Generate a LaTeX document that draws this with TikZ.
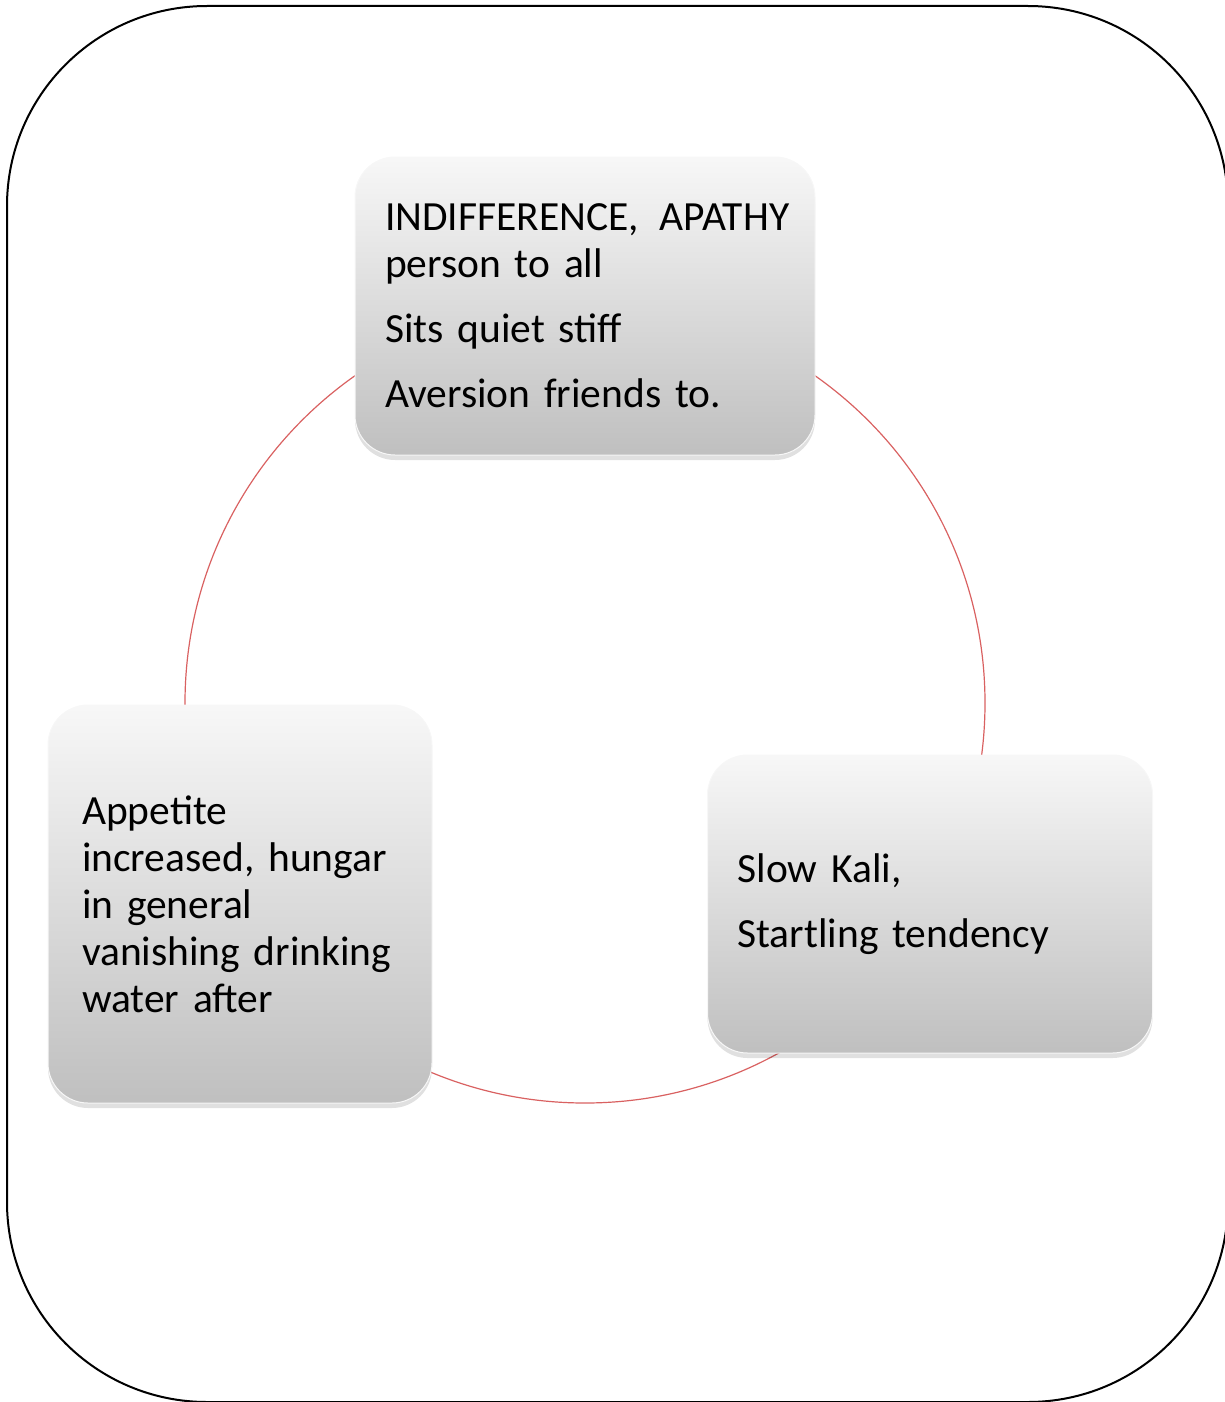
\documentclass[tikz,border=0pt]{standalone}
\usepackage{fontspec}
\setmainfont{Carlito}
\usetikzlibrary{shadows}
\begin{document}
\begin{tikzpicture}[x=1pt,y=-1pt,
    card/.style={rounded corners=40pt, draw=white!97!black, line width=1pt,
      top color=white!97!black, bottom color=black!25,
      drop shadow={shadow xshift=0pt, shadow yshift=-5pt, opacity=0.12, fill=black},
      inner xsep=30pt, inner ysep=0pt, align=left,
      font=\fontsize{41.5}{47}\selectfont}]
  \useasboundingbox (0,0) rectangle (1225,1402);
  \draw[line width=2pt, rounded corners=200pt] (7,6) rectangle (1228,1402);
  \draw[red!55!white!85!black, line width=1.2pt] (585,703) circle[radius=400];
  \node[card, text width=400pt, minimum width=460pt, minimum height=298pt]
    (top) at (585,306) {\mbox{INDIFFERENCE, \,APATHY}\\person to all\\[18pt]
      Sits quiet stiff\\[18pt]Aversion friends to.};
  \node[card, text width=316pt, inner xsep=34pt, minimum width=384pt, minimum height=398pt]
    (left) at (240,904) {Appetite\\increased, hungar\\in general\\
      \mbox{vanishing drinking}\\water after};
  \node[card, text width=385pt, minimum width=445pt, minimum height=298pt]
    (right) at (930,904) {Slow Kali,\\[18pt]Startling tendency};
\end{tikzpicture}
\end{document}
